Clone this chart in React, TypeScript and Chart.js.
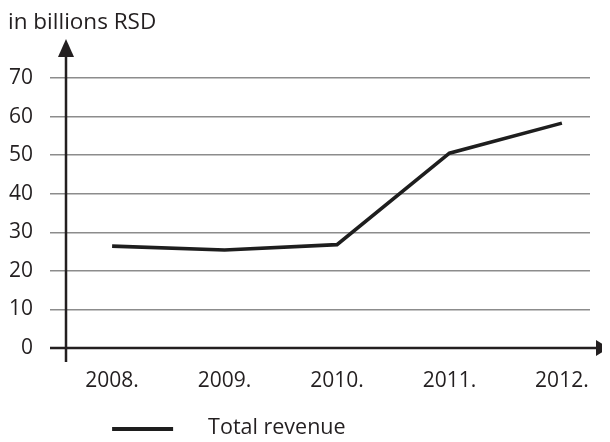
import React, { useEffect, useRef } from "react";
import { Chart, registerables } from "chart.js";

Chart.register(...registerables);

// Revenue by year, in billions of RSD
const years = ["2008.", "2009.", "2010.", "2011.", "2012."];
const totalRevenue = [26.4, 25.4, 26.8, 50.5, 58.3];
const yMin = 0;
const yMax = 70;
const yStep = 10;
const unitLabel = "in billions RSD";
const seriesLabel = "Total revenue";

const FONT_FAMILY = "'Open Sans', sans-serif";
const FONT_SIZE = 21;
const INK = "#231f20";
const GRID = "#8c8c8c";

// Draws both axes with arrow heads and a simple line-sample legend under the chart.
const axesAndLegend = {
  id: "axesAndLegend",
  afterDraw(chart: any) {
    const { ctx, chartArea, scales } = chart;
    const xs = scales.x;
    const ys = scales.y;
    const zeroY = Math.round(ys.getPixelForValue(0));
    const axisX = chartArea.left;
    const tickLen = ys.options.grid.tickLength;

    ctx.save();
    ctx.strokeStyle = INK;
    ctx.fillStyle = INK;
    ctx.lineWidth = 2.5;

    // horizontal axis
    const tipX = chart.width - 1;
    ctx.beginPath();
    ctx.moveTo(axisX - tickLen, zeroY);
    ctx.lineTo(tipX - 6, zeroY);
    ctx.stroke();
    ctx.beginPath();
    ctx.moveTo(tipX, zeroY);
    ctx.lineTo(tipX - 13, zeroY - 8);
    ctx.lineTo(tipX - 13, zeroY + 8);
    ctx.closePath();
    ctx.fill();

    // vertical axis
    const tipY = chartArea.top - 39;
    ctx.beginPath();
    ctx.moveTo(axisX, zeroY + 14);
    ctx.lineTo(axisX, tipY + 6);
    ctx.stroke();
    ctx.beginPath();
    ctx.moveTo(axisX, tipY);
    ctx.lineTo(axisX - 8, tipY + 18);
    ctx.lineTo(axisX + 8, tipY + 18);
    ctx.closePath();
    ctx.fill();

    // legend
    const ds = chart.data.datasets[0];
    const lx = xs.getPixelForValue(0);
    const ly = 421;
    ctx.lineWidth = 4;
    ctx.strokeStyle = ds.borderColor;
    ctx.beginPath();
    ctx.moveTo(lx, ly);
    ctx.lineTo(lx + 61, ly);
    ctx.stroke();
    ctx.font = `${FONT_SIZE + 0.5}px ${FONT_FAMILY}`;
    ctx.textBaseline = "middle";
    ctx.textAlign = "left";
    ctx.fillStyle = INK;
    ctx.fillText(ds.label, lx + 96, ly - 1);
    ctx.restore();
  },
};

export default function App() {
  const canvasRef = useRef<HTMLCanvasElement | null>(null);

  useEffect(() => {
    if (!canvasRef.current) return;
    const chart = new Chart(canvasRef.current, {
      type: "line",
      data: {
        datasets: [
          {
            label: seriesLabel,
            data: totalRevenue.map((v, i) => ({ x: i, y: v })),
            borderColor: "#1e1e1e",
            borderWidth: 3.6,
            pointRadius: 0,
            tension: 0,
            fill: false,
          },
        ],
      },
      options: {
        animation: false,
        responsive: true,
        maintainAspectRatio: false,
        layout: { padding: { left: 0, right: 20, top: 0, bottom: 0 } },
        plugins: {
          legend: { display: false },
          tooltip: { enabled: false },
          title: {
            display: true,
            text: unitLabel,
            align: "start",
            color: INK,
            font: { family: FONT_FAMILY, size: 22.5, weight: "normal", lineHeight: 1.2 },
            padding: { top: 1, bottom: 42 },
          },
        },
        scales: {
          x: {
            type: "linear",
            min: -0.41,
            max: 4.25,
            afterBuildTicks: (scale: any) => {
              scale.ticks = years.map((_, i) => ({ value: i }));
            },
            afterFit: (scale: any) => {
              scale.height = 86;
            },
            grid: { display: false, drawTicks: false },
            border: { display: false },
            ticks: {
              callback: (v: any) => years[v as number] ?? "",
              color: INK,
              padding: 20,
              maxRotation: 0,
              autoSkip: false,
              font: { family: FONT_FAMILY, size: FONT_SIZE },
            },
          },
          y: {
            min: yMin,
            max: yMax,
            afterFit: (scale: any) => {
              scale.width = 58;
            },
            grid: {
              color: GRID,
              lineWidth: 1.5,
              drawTicks: true,
              tickLength: 16,
              tickColor: GRID,
            },
            border: { display: false },
            ticks: {
              stepSize: yStep,
              color: INK,
              padding: 17,
              font: { family: FONT_FAMILY, size: FONT_SIZE },
            },
          },
        },
      },
      plugins: [axesAndLegend],
    });
    return () => chart.destroy();
  }, []);

  return (
    <div style={{ width: 602, height: 426, position: "relative" }}>
      <canvas ref={canvasRef} />
    </div>
  );
}
